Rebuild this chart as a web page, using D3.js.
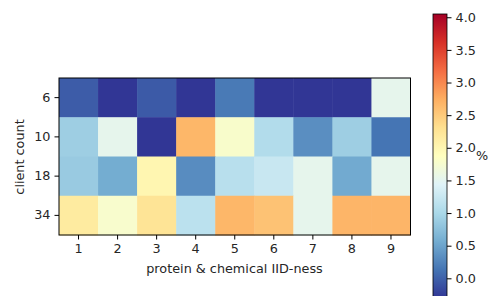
<!DOCTYPE html>
<html>
<head>
<meta charset="utf-8">
<script src="https://cdn.jsdelivr.net/npm/d3@7"></script>
<style>
  body { margin: 0; background: #fff; }
  text { font-family: "DejaVu Sans", sans-serif; fill: #262626; }
</style>
</head>
<body>
<svg id="chart" width="488" height="296"></svg>
<script>
// data
var iidness = [1, 2, 3, 4, 5, 6, 7, 8, 9];
var clients = [6, 10, 18, 34];
var values = [
  [-0.04, -0.3, -0.05, -0.3, 0.17, -0.3, -0.3, -0.3, 1.53],
  [0.90, 1.53, -0.3, 2.67, 1.78, 1.06, 0.33, 0.90, 0.135],
  [0.86, 0.57, 2.0, 0.31, 1.11, 1.24, 1.53, 0.55, 1.53],
  [2.16, 1.77, 2.25, 1.14, 2.67, 2.57, 1.53, 2.68, 2.68]
];
var cbarTicks = [0.0, 0.5, 1.0, 1.5, 2.0, 2.5, 3.0, 3.5, 4.0];
var vmin = -0.3, vmax = 4.05;

var rdylbu = ['#313695', '#4575b4', '#74add1', '#abd9e9', '#e0f3f8', '#ffffbf',
              '#fee090', '#fdae61', '#f46d43', '#d73027', '#a50026'];

var fs = '12.8px';
var svg = d3.select('#chart');

var cmap = d3.scaleLinear()
  .domain(d3.range(11).map(function (i) { return vmin + (vmax - vmin) * i / 10; }))
  .range(rdylbu)
  .interpolate(d3.interpolateRgb)
  .clamp(true);

var x = d3.scaleBand().domain(iidness).range([59, 410.5]);
var y = d3.scaleBand().domain(clients).range([78, 235]);

var cells = [];
clients.forEach(function (c, i) {
  iidness.forEach(function (d, j) {
    cells.push({ c: c, d: d, v: values[i][j] });
  });
});

svg.append('g').selectAll('rect').data(cells).enter().append('rect')
  .attr('x', function (e) { return x(e.d); })
  .attr('y', function (e) { return y(e.c); })
  .attr('width', x.bandwidth() + 0.5)
  .attr('height', y.bandwidth() + 0.5)
  .attr('fill', function (e) { return cmap(e.v); });

svg.append('rect')
  .attr('x', 59).attr('y', 78).attr('width', 351.5).attr('height', 157)
  .attr('fill', 'none').attr('stroke', '#000').attr('stroke-width', 1);

var xAxis = svg.append('g').attr('transform', 'translate(0,235)')
  .call(d3.axisBottom(x).tickSize(4.5).tickPadding(4));
var yAxis = svg.append('g').attr('transform', 'translate(59,0)')
  .call(d3.axisLeft(y).tickSize(4.5).tickPadding(4));
[xAxis, yAxis].forEach(function (a) {
  a.select('.domain').remove();
  a.selectAll('.tick line').attr('stroke', '#000').attr('stroke-width', 1);
  a.selectAll('.tick text').style('font-size', fs).attr('fill', '#262626')
    .style('font-family', '"DejaVu Sans", sans-serif');
});

svg.append('text')
  .attr('x', 234.5).attr('y', 273)
  .attr('text-anchor', 'middle').style('font-size', fs)
  .text('protein & chemical IID-ness');

svg.append('text')
  .attr('transform', 'translate(24,157) rotate(-90)')
  .attr('text-anchor', 'middle').style('font-size', fs)
  .text('client count');

// colorbar
var cy = d3.scaleLinear().domain([vmin, vmax]).range([297.9, 14]);
var grad = svg.append('defs').append('linearGradient')
  .attr('id', 'cbar').attr('x1', 0).attr('y1', 1).attr('x2', 0).attr('y2', 0);
grad.selectAll('stop').data(rdylbu).enter().append('stop')
  .attr('offset', function (d, i) { return i / 10; })
  .attr('stop-color', function (d) { return d; });

svg.append('rect')
  .attr('x', 433).attr('y', cy(vmax)).attr('width', 14)
  .attr('height', cy(vmin) - cy(vmax))
  .attr('fill', 'url(#cbar)').attr('stroke', '#000').attr('stroke-width', 0.8);

var cAxis = svg.append('g').attr('transform', 'translate(447,0)')
  .call(d3.axisRight(cy).tickValues(cbarTicks).tickFormat(d3.format('.1f'))
    .tickSize(4.5).tickPadding(4));
cAxis.select('.domain').remove();
cAxis.selectAll('.tick line').attr('stroke', '#000').attr('stroke-width', 1);
cAxis.selectAll('.tick text').style('font-size', fs).attr('fill', '#262626')
  .style('font-family', '"DejaVu Sans", sans-serif');

svg.append('text')
  .attr('x', 476).attr('y', 160)
  .style('font-size', fs)
  .text('%');
</script>
</body>
</html>
